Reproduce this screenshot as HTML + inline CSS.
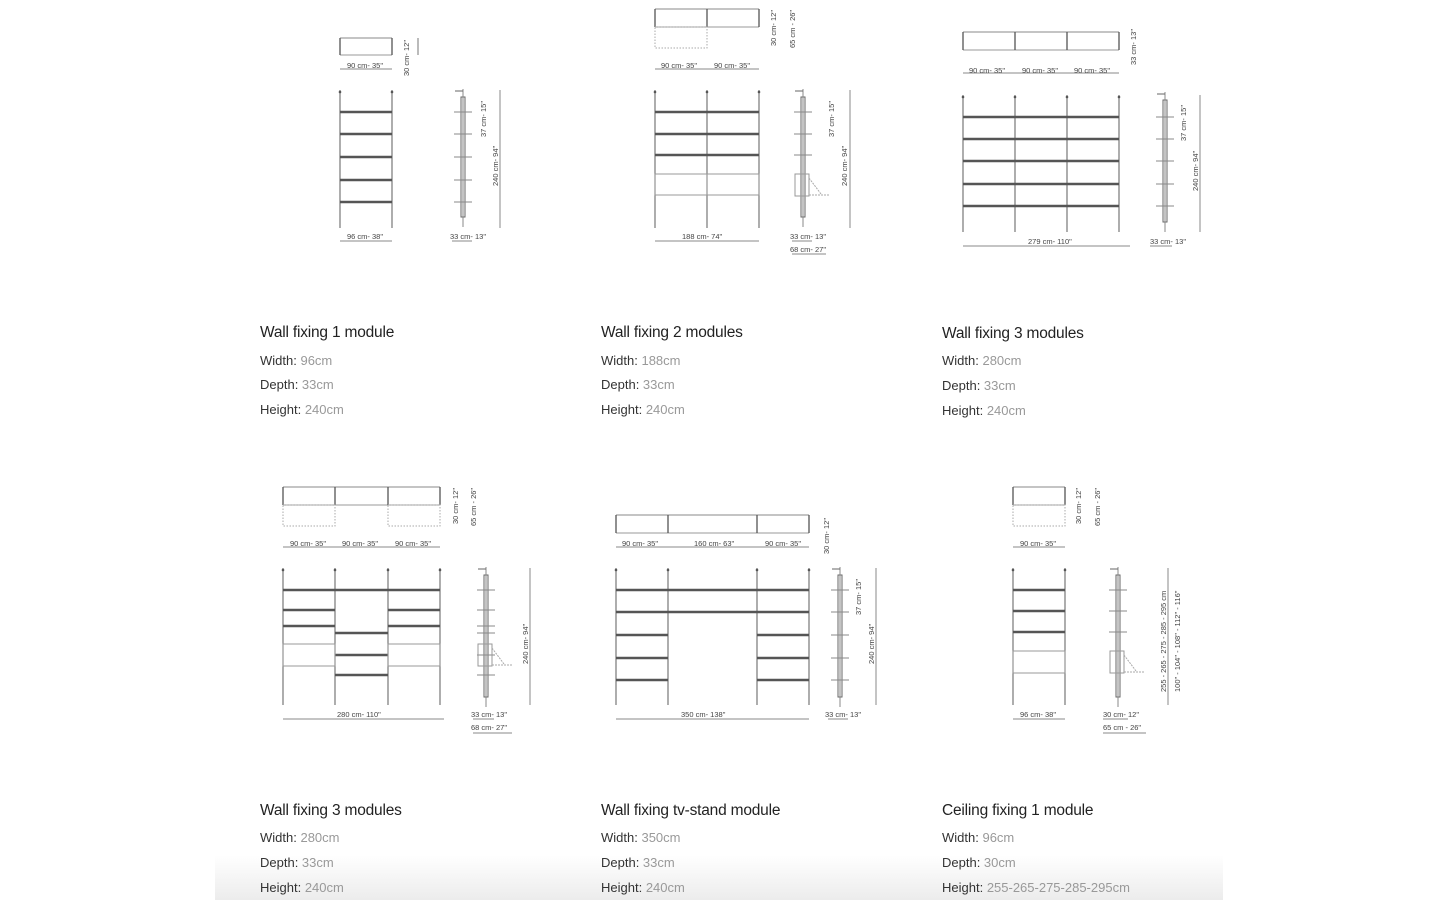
<!DOCTYPE html>
<html><head><meta charset="utf-8">
<style>
html,body{margin:0;padding:0;background:#fff;width:1440px;height:900px;overflow:hidden;position:relative;font-family:"Liberation Sans",sans-serif}
#fade{position:absolute;left:215px;top:855px;width:1008px;height:45px;background:linear-gradient(#fff,#ececec)}
svg{position:absolute;left:0;top:0}
.t{position:absolute;font-size:15.5px;color:#222;letter-spacing:-0.2px}
.l{position:absolute;font-size:13px;color:#333}
.l span{color:#999}
svg text{font-family:"Liberation Sans",sans-serif;font-size:7.5px;fill:#444}
</style></head><body>
<div id="fade"></div>
<svg id="s" width="1440" height="900" viewBox="0 0 1440 900">
<g id="g" stroke="#666" fill="none" stroke-width="1"></g>
<text x="347" y="68">90 cm- 35"</text>
<text x="347" y="239">96 cm- 38"</text>
<text x="450" y="239">33 cm- 13"</text>
<text transform="translate(409,76) rotate(-90)">30 cm- 12"</text>
<text transform="translate(486,137) rotate(-90)">37 cm- 15"</text>
<text transform="translate(498,186) rotate(-90)">240 cm- 94"</text>

<text x="661" y="68">90 cm- 35"</text><text x="714" y="68">90 cm- 35"</text>
<text x="682" y="239">188 cm- 74"</text>
<text x="790" y="239">33 cm- 13"</text><text x="790" y="252">68 cm- 27"</text>
<text transform="translate(776,46) rotate(-90)">30 cm- 12"</text>
<text transform="translate(795,48) rotate(-90)">65 cm - 26"</text>
<text transform="translate(834,137) rotate(-90)">37 cm- 15"</text>
<text transform="translate(847,186) rotate(-90)">240 cm- 94"</text>

<text x="969" y="73">90 cm- 35"</text><text x="1022" y="73">90 cm- 35"</text><text x="1074" y="73">90 cm- 35"</text>
<text x="1028" y="244">279 cm- 110"</text>
<text x="1150" y="244">33 cm- 13"</text>
<text transform="translate(1136,65) rotate(-90)">33 cm- 13"</text>
<text transform="translate(1186,141) rotate(-90)">37 cm- 15"</text>
<text transform="translate(1198,191) rotate(-90)">240 cm- 94"</text>

<text x="290" y="546">90 cm- 35"</text><text x="342" y="546">90 cm- 35"</text><text x="395" y="546">90 cm- 35"</text>
<text x="337" y="717">280 cm- 110"</text>
<text x="471" y="717">33 cm- 13"</text><text x="471" y="730">68 cm- 27"</text>
<text transform="translate(458,524) rotate(-90)">30 cm- 12"</text>
<text transform="translate(476,526) rotate(-90)">65 cm - 26"</text>
<text transform="translate(528,664) rotate(-90)">240 cm- 94"</text>

<text x="622" y="546">90 cm- 35"</text><text x="694" y="546">160 cm- 63"</text><text x="765" y="546">90 cm- 35"</text>
<text x="681" y="717">350 cm- 138"</text>
<text x="825" y="717">33 cm- 13"</text>
<text transform="translate(829,554) rotate(-90)">30 cm- 12"</text>
<text transform="translate(861,615) rotate(-90)">37 cm- 15"</text>
<text transform="translate(874,664) rotate(-90)">240 cm- 94"</text>

<text x="1020" y="546">90 cm- 35"</text>
<text x="1020" y="717">96 cm- 38"</text>
<text x="1103" y="717">30 cm- 12"</text><text x="1103" y="730">65 cm - 26"</text>
<text transform="translate(1081,524) rotate(-90)">30 cm- 12"</text>
<text transform="translate(1100,526) rotate(-90)">65 cm - 26"</text>
<text transform="translate(1166,692) rotate(-90)">255 - 265 - 275 - 285 - 295 cm</text>
<text transform="translate(1180,692) rotate(-90)">100" - 104" - 108" - 112" - 116"</text>
</svg>

<div class="t" style="left:260px;top:324px">Wall fixing 1 module</div>
<div class="l" style="left:260px;top:353px">Width: <span>96cm</span></div>
<div class="l" style="left:260px;top:377px">Depth: <span>33cm</span></div>
<div class="l" style="left:260px;top:402px">Height: <span>240cm</span></div>

<div class="t" style="left:601px;top:324px">Wall fixing 2 modules</div>
<div class="l" style="left:601px;top:353px">Width: <span>188cm</span></div>
<div class="l" style="left:601px;top:377px">Depth: <span>33cm</span></div>
<div class="l" style="left:601px;top:402px">Height: <span>240cm</span></div>

<div class="t" style="left:942px;top:325px">Wall fixing 3 modules</div>
<div class="l" style="left:942px;top:353px">Width: <span>280cm</span></div>
<div class="l" style="left:942px;top:378px">Depth: <span>33cm</span></div>
<div class="l" style="left:942px;top:403px">Height: <span>240cm</span></div>

<div class="t" style="left:260px;top:802px">Wall fixing 3 modules</div>
<div class="l" style="left:260px;top:830px">Width: <span>280cm</span></div>
<div class="l" style="left:260px;top:855px">Depth: <span>33cm</span></div>
<div class="l" style="left:260px;top:880px">Height: <span>240cm</span></div>

<div class="t" style="left:601px;top:802px">Wall fixing tv-stand module</div>
<div class="l" style="left:601px;top:830px">Width: <span>350cm</span></div>
<div class="l" style="left:601px;top:855px">Depth: <span>33cm</span></div>
<div class="l" style="left:601px;top:880px">Height: <span>240cm</span></div>

<div class="t" style="left:942px;top:802px">Ceiling fixing 1 module</div>
<div class="l" style="left:942px;top:830px">Width: <span>96cm</span></div>
<div class="l" style="left:942px;top:855px">Depth: <span>30cm</span></div>
<div class="l" style="left:942px;top:880px">Height: <span>255-265-275-285-295cm</span></div>

<script>
(function(){
var g=document.getElementById('g'),NS='http://www.w3.org/2000/svg';
function el(t,a){var e=document.createElementNS(NS,t);for(var k in a)e.setAttribute(k,a[k]);g.appendChild(e);return e;}
function L(x1,y1,x2,y2,c,w,d){var o={x1:x1,y1:y1,x2:x2,y2:y2,stroke:c||'#777','stroke-width':w||1};if(d)o['stroke-dasharray']=d;el('line',o);}
function R(x,y,w,h,c,d){var o={x:x,y:y,width:w,height:h,stroke:c||'#999',fill:'none'};if(d)o['stroke-dasharray']=d;el('rect',o);}
function front(posts,y1,y2,shelves,drawers){
 posts.forEach(function(x){L(x,y1,x,y2,'#777',1.2);el('circle',{cx:x,cy:y1+2,r:1.3,fill:'#555',stroke:'none'});});
 shelves.forEach(function(s){L(posts[s[0]],s[2],posts[s[1]],s[2],'#555',2.6);});
 (drawers||[]).forEach(function(d){R(posts[d[0]],d[2],posts[d[1]]-posts[d[0]],d[3]-d[2],'#999');});
}
function side(x,y1,y2,ticks,dimx,dy1,dy2,box){
 R(x-2,y1,4,y2-y1,'#666');L(x,y1-8,x,y2+10,'#888');L(x-8,y1-6,x,y1-6,'#666');
 ticks.forEach(function(t){L(x-9,t,x+9,t,'#888');});
 if(box){R(x-8,box,14,22,'#999');L(x+6,box+4,x+18,box+20,'#aaa',1,'2,1');L(x+6,box+21,x+26,box+21,'#aaa',1,'2,1');}
 L(dimx,dy1,dimx,dy2,'#888');
}
function tv(xs,y1,y2,dotted){
 L(xs[0],y1,xs[xs.length-1],y1,'#888');L(xs[0],y2,xs[xs.length-1],y2,'#999');
 xs.forEach(function(x){L(x,y1,x,y2,'#555',1.3);});
 (dotted||[]).forEach(function(i){R(xs[i],y2,xs[i+1]-xs[i],21,'#aaa','1.5,1.5');});
}
function dimH(x1,x2,y){L(x1,y,x2,y,'#888');}
tv([340,392],38,55);dimH(340,392,69);L(418,38,418,55);
front([340,392],90,228,[[0,1,112],[0,1,134],[0,1,157],[0,1,180],[0,1,202]]);
dimH(340,392,241);side(463,97,217,[112,134,157,180,202],500,90,228);dimH(452,472,241);
tv([655,707,759],9,27,[0]);dimH(655,759,69);
front([655,707,759],90,228,[[0,2,112],[0,2,134],[0,2,155]],[[0,1,174,195],[1,2,174,195]]);
dimH(655,759,241);side(803,97,217,[112,134,155],850,90,228,174);dimH(792,812,241);dimH(792,826,254);
tv([963,1015,1067,1119],32,50);dimH(963,1119,73);
front([963,1015,1067,1119],95,232,[[0,3,117],[0,3,139],[0,3,161],[0,3,184],[0,3,206]]);
dimH(963,1130,246);side(1165,100,222,[117,139,161,184,206],1200,95,232);dimH(1150,1172,246);
tv([283,335,388,440],487,505,[0,2]);dimH(283,440,547);
front([283,335,388,440],568,705,[[0,3,590],[0,1,610],[0,1,626],[2,3,610],[2,3,626],[1,2,633],[1,2,655],[1,2,675]],[[0,1,644,666],[2,3,644,666]]);
dimH(283,444,719);side(486,575,697,[590,610,626,633,655,675],530,568,705,644);dimH(473,494,719);dimH(473,512,733);
tv([616,668,757,809],515,533);dimH(616,809,547);
front([616,668,757,809],568,705,[[0,3,590],[0,3,612],[0,1,635],[0,1,658],[0,1,680],[2,3,635],[2,3,658],[2,3,680]]);
dimH(616,809,719);side(840,575,697,[590,612,635,658,680],876,568,705);dimH(828,848,719);
tv([1013,1065],487,505,[0]);dimH(1013,1065,547);
front([1013,1065],568,705,[[0,1,590],[0,1,611],[0,1,632]],[[0,1,651,673]]);
dimH(1013,1065,719);side(1118,575,697,[590,611,632],1168,568,705,651);dimH(1103,1128,719);dimH(1103,1146,733);
})();
</script>
</body></html>
